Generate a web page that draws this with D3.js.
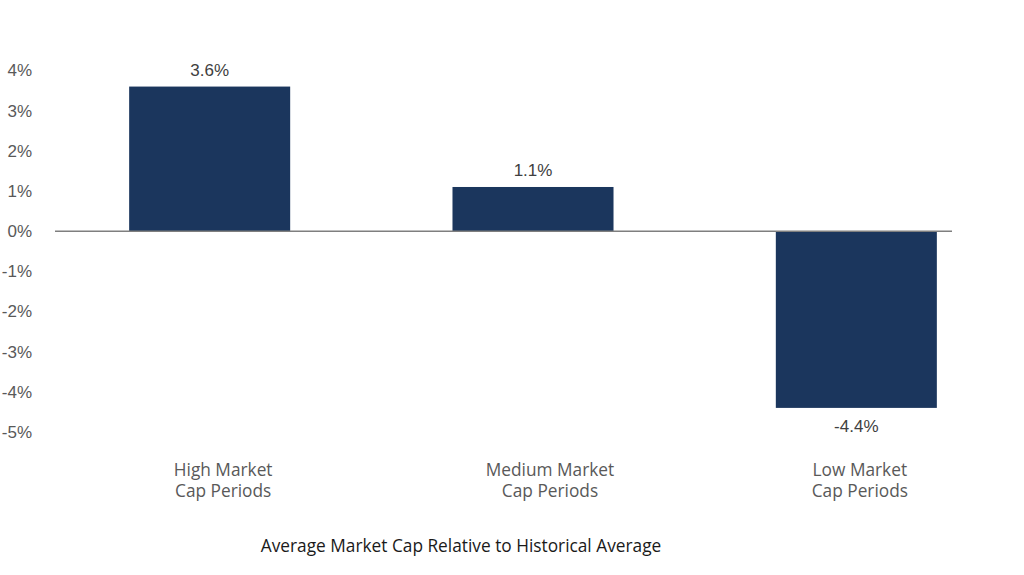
<!DOCTYPE html>
<html><head><meta charset="utf-8">
<script src="https://cdn.jsdelivr.net/npm/d3@7"></script>
<style>body{margin:0;background:#fff;} svg{display:block;}</style>
</head><body>
<svg id="c" width="1024" height="575"></svg>
<script>
const categories = [["High Market","Cap Periods"],["Medium Market","Cap Periods"],["Low Market","Cap Periods"]];
const values = [3.6, 1.1, -4.4];
const valueLabels = ["3.6%", "1.1%", "-4.4%"];
const yTicks = [4, 3, 2, 1, 0, -1, -2, -3, -4, -5];
const axisTitle = "Average Market Cap Relative to Historical Average";

// layout: horizontal nudges of category labels relative to bar centres (as in the reference)
const catLabelNudge = [13.5, 17, 3.5];

const svg = d3.select("#c");
const y = d3.scaleLinear().domain([-5, 4]).range([432, 70.5]);
const x = d3.scaleBand().domain(d3.range(categories.length)).range([48, 1018]).paddingInner(0.502).paddingOuter(0.251);

// y tick labels
const yAxis = d3.axisLeft(y).tickValues(yTicks).tickSize(0).tickPadding(0).tickFormat(d => d + "%");
const ga = svg.append("g").attr("transform", "translate(32,0)").call(yAxis);
ga.select(".domain").remove();
ga.selectAll("text").attr("font-family", "Liberation Sans, Arial, sans-serif").attr("font-size", 17).attr("fill", "#595959");

// bars
svg.selectAll("rect.bar").data(values).enter().append("rect")
  .attr("x", (d, i) => x(i)).attr("width", x.bandwidth())
  .attr("y", d => y(Math.max(0, d))).attr("height", d => Math.abs(y(d) - y(0)))
  .attr("fill", "#1b365d");

// zero line
svg.append("line").attr("x1", 55).attr("x2", 952).attr("y1", y(0)).attr("y2", y(0))
  .attr("stroke", "#7f7f7f").attr("stroke-width", 1.5);

// value labels
svg.selectAll("text.val").data(values).enter().append("text")
  .attr("x", (d, i) => x(i) + x.bandwidth() / 2)
  .attr("y", d => d >= 0 ? y(d) - 11 : y(d) + 24)
  .attr("text-anchor", "middle")
  .attr("font-family", "Liberation Sans, Arial, sans-serif").attr("font-size", 17).attr("fill", "#404040")
  .text((d, i) => valueLabels[i]);

// category labels (one text per line)
const lines = [];
categories.forEach((d, i) => d.forEach((line, j) => lines.push({i, j, line})));
svg.selectAll("text.cat").data(lines).enter().append("text")
  .attr("x", d => x(d.i) + x.bandwidth() / 2 + catLabelNudge[d.i])
  .attr("y", d => 476 + d.j * 21)
  .attr("text-anchor", "middle")
  .attr("font-family", "Open Sans, sans-serif").attr("font-size", 17.3).attr("fill", "#595959")
  .text(d => d.line);

// axis title
svg.append("text").attr("x", 461).attr("y", 552).attr("text-anchor", "middle")
  .attr("font-family", "Open Sans, sans-serif").attr("font-size", 17.3).attr("fill", "#1a1a1a")
  .text(axisTitle);
</script>
</body></html>
